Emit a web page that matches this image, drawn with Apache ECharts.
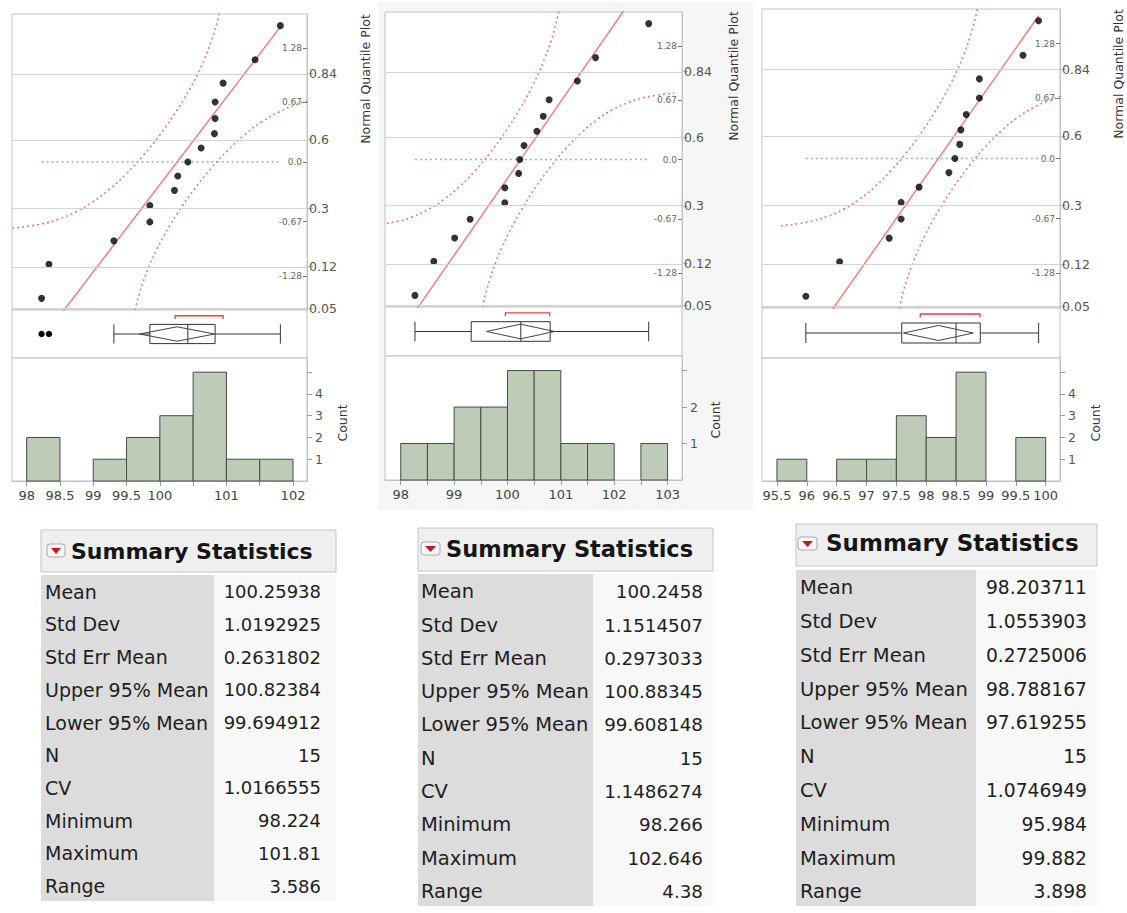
<!DOCTYPE html>
<html><head><meta charset="utf-8">
<script src="https://cdn.jsdelivr.net/npm/echarts@6/dist/echarts.min.js"></script>
<style>html,body{margin:0;padding:0;background:#fff}#c{width:1127px;height:913px}</style>
</head><body><div id="c"></div>
<script>
// ---------------- DATA ----------------
const zQuantiles = [-1.534,-1.150,-0.887,-0.674,-0.489,-0.319,-0.157,0,0.157,0.319,0.489,0.674,0.887,1.150,1.534];

const values1 = [98.224,98.335,99.31,99.85,99.85,100.22,100.27,100.42,100.62,100.82,100.83,100.83,100.95,101.43,101.81];
const values2 = [98.266,98.62,99.01,99.30,99.95,99.95,100.21,100.23,100.31,100.55,100.67,100.78,101.31,101.65,102.646];
const values3 = [95.984,96.55,97.38,97.58,97.58,97.88,98.38,98.48,98.56,98.58,98.67,98.89,98.89,99.62,99.882];

const binWidth = 0.5;
const binStarts1 = [98,98.5,99,99.5,100,100.5,101,101.5];
const counts1    = [2,0,1,2,3,5,1,1];
const binStarts2 = [98,98.5,99,99.5,100,100.5,101,101.5,102,102.5];
const counts2    = [1,1,2,2,3,3,1,1,0,1];
const binStarts3 = [95.5,96,96.5,97,97.5,98,98.5,99,99.5];
const counts3    = [1,0,1,1,3,2,5,0,2];

// box: [low whisker, Q1, median, Q3, high whisker]
const box1 = [99.31,99.85,100.42,100.83,101.81];
const box2 = [98.266,99.32,100.25,100.80,102.646];
const box3 = [95.984,97.59,98.50,98.905,99.882];
const outliers1 = [98.224,98.335];
const outliers2 = [];
const outliers3 = [];
// mean diamond: [lower 95%, mean, upper 95%]
const meanCI1 = [99.694912,100.25938,100.82384];
const meanCI2 = [99.608148,100.2458,100.88345];
const meanCI3 = [97.619255,98.203711,98.788167];
const shortHalf1 = [100.23,100.95];
const shortHalf2 = [99.96,100.79];
const shortHalf3 = [97.90,98.90];

// normal fit lines and reference lines [[x,z],[x,z]]
const fitLine1 = [[98.224,-1.997],[101.81,1.521]];
const fitLine2 = [[98.266,-1.719],[102.646,2.085]];
const fitLine3 = [[95.984,-2.103],[99.882,1.590]];
const refLine1 = [[98.224,0],[101.81,0]];
const refLine2 = [[98.266,0],[102.646,0]];
const refLine3 = [[95.984,0],[99.882,0]];

// confidence bands [[x,z],...]
const upperBand1 = [[97.711,-0.751],[98.220,-0.698],[98.475,-0.643],[98.730,-0.563],[98.985,-0.452],[99.240,-0.309],[99.495,-0.134],[99.749,0.072],[100.004,0.309],[100.259,0.583],[100.361,0.706],[100.463,0.839],[100.565,0.986],[100.667,1.152],[100.769,1.350],[100.820,1.467],[100.871,1.605],[100.922,1.776]];
const lowerBand1 = [[99.596,-1.776],[99.647,-1.605],[99.698,-1.467],[99.749,-1.350],[99.851,-1.152],[99.953,-0.986],[100.055,-0.839],[100.157,-0.706],[100.259,-0.583],[100.514,-0.309],[100.769,-0.072],[101.024,0.134],[101.278,0.309],[101.533,0.452],[101.788,0.563],[102.043,0.643],[102.298,0.698],[102.807,0.751]];
const upperBand2 = [[97.367,-0.751],[97.943,-0.698],[98.231,-0.643],[98.519,-0.563],[98.807,-0.452],[99.094,-0.309],[99.382,-0.134],[99.670,0.072],[99.958,0.309],[100.246,0.583],[100.361,0.706],[100.476,0.839],[100.591,0.986],[100.706,1.152],[100.822,1.350],[100.879,1.467],[100.937,1.605],[100.994,1.776]];
const lowerBand2 = [[99.497,-1.776],[99.555,-1.605],[99.612,-1.467],[99.670,-1.350],[99.785,-1.152],[99.900,-0.986],[100.016,-0.839],[100.131,-0.706],[100.246,-0.583],[100.534,-0.309],[100.822,-0.072],[101.109,0.134],[101.397,0.309],[101.685,0.452],[101.973,0.563],[102.261,0.643],[102.549,0.698],[103.124,0.751]];
const upperBand3 = [[95.565,-0.751],[96.093,-0.698],[96.357,-0.643],[96.621,-0.563],[96.885,-0.452],[97.148,-0.309],[97.412,-0.134],[97.676,0.072],[97.940,0.309],[98.204,0.583],[98.309,0.706],[98.415,0.839],[98.520,0.986],[98.626,1.152],[98.731,1.350],[98.784,1.467],[98.837,1.605],[98.890,1.776]];
const lowerBand3 = [[97.518,-1.776],[97.570,-1.605],[97.623,-1.467],[97.676,-1.350],[97.782,-1.152],[97.887,-0.986],[97.993,-0.839],[98.098,-0.706],[98.204,-0.583],[98.468,-0.309],[98.731,-0.072],[98.995,0.134],[99.259,0.309],[99.523,0.452],[99.787,0.563],[100.051,0.643],[100.315,0.698],[100.842,0.751]];

// axes
const xRange1 = [97.78,102.21];
const xRange2 = [97.705,103.27];
const xRange3 = [95.25,100.24];
const xTicks1 = [98,98.5,99,99.5,100,100.5,101,101.5,102];
const xLabels1 = [98,98.5,99,99.5,100,101,102];
const xTicks2 = [98,98.5,99,99.5,100,100.5,101,101.5,102,102.5,103];
const xLabels2 = [98,99,100,101,102,103];
const xTicks3 = [95.5,96,96.5,97,97.5,98,98.5,99,99.5,100];
const xLabels3 = [95.5,96,96.5,97,97.5,98,98.5,99,99.5,100];
const countTicks1 = [1,2,3,4,5], countLabels1 = [1,2,3,4], countMax1 = 5.65;
const countTicks2 = [1,2,3],     countLabels2 = [1,2],     countMax2 = 3.4;
const countTicks3 = [1,2,3,4,5], countLabels3 = [1,2,3,4], countMax3 = 5.65;
const zRange = [-1.665,1.665];
const probZ = [0.994,0.253,-0.524,-1.175,-1.645];
const probLabels = ['0.84','0.6','0.3','0.12','0.05'];
const innerZ = [1.28,0.67,0,-0.67,-1.28];
const innerLabels = ['1.28','0.67','0.0','-0.67','-1.28'];

// summary statistics
const statNames = ['Mean','Std Dev','Std Err Mean','Upper 95% Mean','Lower 95% Mean','N','CV','Minimum','Maximum','Range'];
const stats1 = ['100.25938','1.0192925','0.2631802','100.82384','99.694912','15','1.0166555','98.224','101.81','3.586'];
const stats2 = ['100.2458','1.1514507','0.2973033','100.88345','99.608148','15','1.1486274','98.266','102.646','4.38'];
const stats3 = ['98.203711','1.0553903','0.2725006','98.788167','97.619255','15','1.0746949','95.984','99.882','3.898'];
const tableTitle = 'Summary Statistics';

// ---------------- LAYOUT / STYLE ----------------
const FONT = '"DejaVu Sans", Verdana, sans-serif';
const BORDER = '#c2c2c2';
const RED = '#f07878';
const GREEN = '#86c886';
const HIST_FILL = '#bdcbb7';

const panels = [
  {values:values1, box:box1, outliers:outliers1, ci:meanCI1, sh:shortHalf1, bins:binStarts1, counts:counts1, xr:xRange1, xt:xTicks1, xl:xLabels1, ct:countTicks1, cl:countLabels1, cm:countMax1, fit:fitLine1, ref:refLine1, up:upperBand1, lo:lowerBand1,
   L:{left:12, width:295, qTop:14, qH:296, bTop:310, bH:48, hTop:358, hH:123, nqp:[365,79], cnt:[342,423]}},
  {values:values2, box:box2, outliers:outliers2, ci:meanCI2, sh:shortHalf2, bins:binStarts2, counts:counts2, xr:xRange2, xt:xTicks2, xl:xLabels2, ct:countTicks2, cl:countLabels2, cm:countMax2, fit:fitLine2, ref:refLine2, up:upperBand2, lo:lowerBand2,
   L:{left:385, width:297, qTop:12, qH:295, bTop:307, bH:49, hTop:356, hH:124, nqp:[733,76], cnt:[715,420]}},
  {values:values3, box:box3, outliers:outliers3, ci:meanCI3, sh:shortHalf3, bins:binStarts3, counts:counts3, xr:xRange3, xt:xTicks3, xl:xLabels3, ct:countTicks3, cl:countLabels3, cm:countMax3, fit:fitLine3, ref:refLine3, up:upperBand3, lo:lowerBand3,
   L:{left:762, width:298, qTop:9, qH:299, bTop:308, bH:50, hTop:358, hH:123, nqp:[1118,74], cnt:[1095,423]}}
];

const tables = [
  {stats:stats1, x:41, w:295, headY:530, headH:42, iconX:47, iconY:544, iconW:18, titleX:71, titleY:551, titleSize:22, bodyY:575, bodyH:326, split:214, row0:591.7, step:32.7, labelX:45, valueX:321, labelSize:19, valueSize:18},
  {stats:stats2, x:418, w:295, headY:528, headH:43, iconX:421, iconY:542, iconW:19, titleX:446, titleY:549, titleSize:22.5, bodyY:574, bodyH:332, split:593, row0:591.7, step:33.3, labelX:421, valueX:703, labelSize:19.5, valueSize:18.3},
  {stats:stats3, x:796, w:301, headY:524, headH:42, iconX:798, iconY:537, iconW:19, titleX:826, titleY:543, titleSize:23, bodyY:570, bodyH:336, split:976, row0:587.7, step:33.8, labelX:800, valueX:1087, labelSize:19.5, valueSize:18.7}
];

// ---------------- BUILD ----------------
const grid = [], xAxis = [], yAxis = [], series = [], gfx = [];

gfx.push({type:'rect', z:-5, shape:{x:378, y:2, width:375, height:508}, style:{fill:'#f6f6f6'}});

function nearestLabel(list, labels, v){
  let bi = 0, bd = Infinity;
  list.forEach((z,i)=>{ const d = Math.abs(z - v); if (d < bd){bd = d; bi = i;} });
  return labels[bi];
}

panels.forEach((P, p) => {
  const L = P.L, g = 3*p, yb = 4*p;
  const gridBase = {left:L.left, width:L.width, show:true, borderColor:BORDER, borderWidth:1, backgroundColor:'#fff'};
  grid.push(Object.assign({}, gridBase, {top:L.qTop, height:L.qH}));
  grid.push(Object.assign({}, gridBase, {top:L.bTop, height:L.bH}));
  grid.push(Object.assign({}, gridBase, {top:L.hTop, height:L.hH}));

  xAxis.push({gridIndex:g, type:'value', min:P.xr[0], max:P.xr[1], show:false});
  xAxis.push({gridIndex:g+1, type:'value', min:P.xr[0], max:P.xr[1], show:false});
  xAxis.push({gridIndex:g+2, type:'value', min:P.xr[0], max:P.xr[1],
    axisLine:{show:true, lineStyle:{color:BORDER}},
    axisTick:{show:true, customValues:P.xt, length:5, lineStyle:{color:'#999'}},
    axisLabel:{customValues:P.xl, fontSize:13, fontFamily:FONT, color:'#444', margin:8},
    splitLine:{show:false}});

  yAxis.push({gridIndex:g, type:'value', position:'right', min:zRange[0], max:zRange[1],
    axisLine:{show:true, lineStyle:{color:BORDER}},
    axisTick:{show:true, customValues:probZ, length:6, lineStyle:{color:'#bbb'}},
    axisLabel:{customValues:probZ, formatter:v=>nearestLabel(probZ, probLabels, v), fontSize:12.5, fontFamily:FONT, color:'#555', margin:2},
    splitLine:{show:false}});
  yAxis.push({gridIndex:g, type:'value', position:'right', min:zRange[0], max:zRange[1],
    axisLine:{show:false},
    axisTick:{show:true, inside:true, customValues:innerZ, length:4, lineStyle:{color:'#777'}},
    axisLabel:{inside:true, customValues:innerZ, formatter:v=>nearestLabel(innerZ, innerLabels, v), fontSize:9, fontFamily:FONT, color:'#666', margin:5},
    splitLine:{show:false}});
  yAxis.push({gridIndex:g+1, type:'value', min:0, max:1, show:false});
  yAxis.push({gridIndex:g+2, type:'value', position:'right', min:0, max:P.cm,
    axisLine:{show:true, lineStyle:{color:BORDER}},
    axisTick:{show:true, customValues:P.ct, length:5, lineStyle:{color:'#999'}},
    axisLabel:{customValues:P.cl, fontSize:12.5, fontFamily:FONT, color:'#555', margin:8},
    splitLine:{show:false}});

  // gridlines at probability positions
  series.push({type:'line', xAxisIndex:g, yAxisIndex:yb, data:[], z:1, silent:true,
    markLine:{silent:true, symbol:['none','none'], label:{show:false},
      lineStyle:{color:'#d4d4d4', type:'solid', width:1},
      data: probZ.map(z=>({yAxis:z}))}});
  const bandStyle = {color:RED, width:1.6, type:[2,3]};
  series.push({type:'line', xAxisIndex:g, yAxisIndex:yb, data:P.up, smooth:true, symbol:'none', clip:true, silent:true, lineStyle:bandStyle, z:2});
  series.push({type:'line', xAxisIndex:g, yAxisIndex:yb, data:P.lo, smooth:true, symbol:'none', clip:true, silent:true, lineStyle:bandStyle, z:2});
  series.push({type:'line', xAxisIndex:g, yAxisIndex:yb, data:P.ref, symbol:'none', silent:true, lineStyle:{color:GREEN, width:1.6, type:[2,3]}, z:2});
  series.push({type:'line', xAxisIndex:g, yAxisIndex:yb, data:P.fit, symbol:'none', clip:true, silent:true, lineStyle:{color:RED, width:1.4}, z:3});
  series.push({type:'scatter', xAxisIndex:g, yAxisIndex:yb, data:P.values.map((v,i)=>[v, zQuantiles[i]]), symbolSize:7, itemStyle:{color:'#000'}, silent:true, z:4});

  // box plot
  series.push({type:'custom', xAxisIndex:g+1, yAxisIndex:yb+2, data:[[P.box[2],0.5]], silent:true,
    renderItem:(params, api)=>{
      const b = P.box, ci = P.ci, sh = P.sh;
      const c = (x,y)=>api.coord([x,y]);
      const ln = {stroke:'#333', lineWidth:1, fill:null};
      const line = (a,bb)=>({type:'line', shape:{x1:a[0], y1:a[1], x2:bb[0], y2:bb[1]}, style:ln});
      const ch = [];
      ch.push(line(c(b[0],0.5), c(b[1],0.5)));
      ch.push(line(c(b[3],0.5), c(b[4],0.5)));
      ch.push(line(c(b[0],0.3), c(b[0],0.7)));
      ch.push(line(c(b[4],0.3), c(b[4],0.7)));
      const q1t = c(b[1],0.7), q3b = c(b[3],0.3);
      ch.push({type:'rect', shape:{x:q1t[0], y:q1t[1], width:q3b[0]-q1t[0], height:q3b[1]-q1t[1]}, style:{fill:null, stroke:'#333', lineWidth:1}});
      ch.push(line(c(b[2],0.3), c(b[2],0.7)));
      ch.push({type:'polygon', shape:{points:[c(ci[0],0.5), c(ci[1],0.65), c(ci[2],0.5), c(ci[1],0.35)]}, style:{fill:null, stroke:'#444', lineWidth:1}});
      ch.push({type:'polyline', shape:{points:[c(sh[0],0.81), c(sh[0],0.88), c(sh[1],0.88), c(sh[1],0.81)]}, style:{fill:null, stroke:'#e8404a', lineWidth:1.3}});
      P.outliers.forEach(o=>{ const pt = c(o,0.5); ch.push({type:'circle', shape:{cx:pt[0], cy:pt[1], r:3.2}, style:{fill:'#000'}}); });
      return {type:'group', children:ch};
    }});

  // histogram
  series.push({type:'custom', xAxisIndex:g+2, yAxisIndex:yb+3, data:P.bins.map((s,i)=>[s, P.counts[i]]), silent:true,
    renderItem:(params, api)=>{
      const s = api.value(0), n = api.value(1);
      if (!n) return null;
      const p0 = api.coord([s, n]), p1 = api.coord([s + binWidth, 0]);
      return {type:'rect', shape:{x:p0[0], y:p0[1], width:p1[0]-p0[0], height:p1[1]-p0[1]}, style:{fill:HIST_FILL, stroke:'#4a4a4a', lineWidth:1}};
    }});

  gfx.push({type:'text', x:L.nqp[0], y:L.nqp[1], rotation:Math.PI/2, style:{text:'Normal Quantile Plot', fontSize:12.5, fontFamily:FONT, fill:'#333', align:'center', verticalAlign:'middle'}});
  gfx.push({type:'text', x:L.cnt[0], y:L.cnt[1], rotation:Math.PI/2, style:{text:'Count', fontSize:12.5, fontFamily:FONT, fill:'#333', align:'center', verticalAlign:'middle'}});
});

tables.forEach(t => {
  gfx.push({type:'rect', shape:{x:t.x, y:t.headY, width:t.w, height:t.headH}, style:{fill:'#efefef', stroke:'#c4c4c4', lineWidth:1}});
  gfx.push({type:'rect', shape:{x:t.iconX, y:t.iconY, width:t.iconW, height:13, r:3}, style:{fill:'#f7f7f7', stroke:'#a8a8a8', lineWidth:1}});
  gfx.push({type:'polygon', shape:{points:[[t.iconX+4, t.iconY+4],[t.iconX+t.iconW-4, t.iconY+4],[t.iconX+t.iconW/2, t.iconY+10]]}, style:{fill:'#d0141c'}});
  gfx.push({type:'text', x:t.titleX, y:t.titleY, style:{text:tableTitle, fontSize:t.titleSize, fontWeight:'bold', fontFamily:FONT, fill:'#151515', align:'left', verticalAlign:'middle'}});
  gfx.push({type:'rect', shape:{x:t.x, y:t.bodyY, width:t.split - t.x, height:t.bodyH}, style:{fill:'#dcdcdc'}});
  gfx.push({type:'rect', shape:{x:t.split, y:t.bodyY, width:t.x + t.w - t.split, height:t.bodyH}, style:{fill:'#f8f8f8'}});
  statNames.forEach((name, i) => {
    const y = t.row0 + i*t.step;
    gfx.push({type:'text', x:t.labelX, y:y, style:{text:name, fontSize:t.labelSize, fontFamily:FONT, fill:'#1e1e1e', align:'left', verticalAlign:'middle'}});
    gfx.push({type:'text', x:t.valueX, y:y, style:{text:t.stats[i], fontSize:t.valueSize, fontFamily:FONT, fill:'#1e1e1e', align:'right', verticalAlign:'middle'}});
  });
});

const chart = echarts.init(document.getElementById('c'), null, {renderer:'svg', width:1127, height:913});
chart.setOption({
  animation:false,
  backgroundColor:'#fff',
  grid, xAxis, yAxis, series,
  graphic:{elements:gfx}
});
</script>
</body></html>
